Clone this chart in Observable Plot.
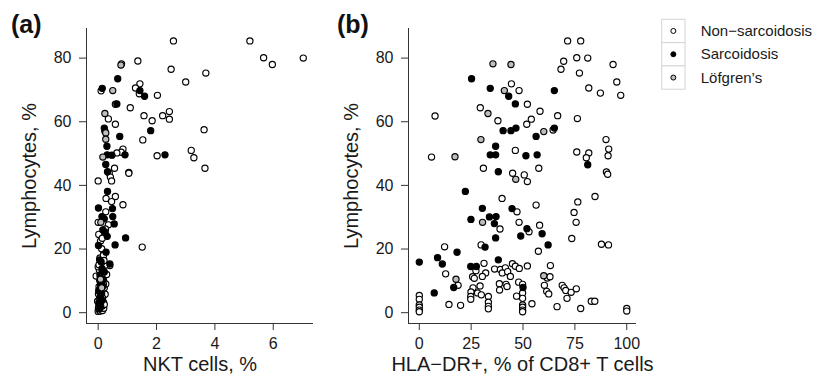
<!DOCTYPE html>
<html><head><meta charset="utf-8">
<script src="https://cdn.jsdelivr.net/npm/d3@7"></script>
<script src="https://cdn.jsdelivr.net/npm/@observablehq/plot@0.6"></script>
<style>
body{margin:0;background:#fff;font-family:"Liberation Sans",Arial,Helvetica,sans-serif;}
#wrap{position:relative;width:813px;height:383px;overflow:hidden;background:#fff;}
.panel{position:absolute;top:0;}
.tag{position:absolute;font-weight:bold;font-size:25px;line-height:25px;color:#111;}
#legend{position:absolute;left:656px;top:14px;}
</style></head><body><div id="wrap"></div>
<script>
// ---------- data ----------
const groups = ["Non\u2212sarcoidosis", "Sarcoidosis", "L\u00f6fgren\u2019s"];
const groupFill = ["white", "black", "#bebebe"];
const yTicks = [0, 20, 40, 60, 80];
const xTicksA = [0, 2, 4, 6];
const xTicksB = [0, 25, 50, 75, 100];
const yLabel = "Lymphocytes, %";
const xLabelA = "NKT cells, %";
const xLabelB = "HLA\u2212DR+, % of CD8+ T cells";
const panelTags = ["(a)", "(b)"];

// Panel (a): [NKT cells %, Lymphocytes %]
const nktNon = [[2.58,85.4],[5.2,85.4],[5.67,80.1],[5.97,78.0],[7.03,80.0],[1.36,79.1],[2.5,76.5],[3.69,75.3],[3.0,72.5],[1.43,71.9],[1.28,70.6],[0.10,69.7],[1.41,68.8],[2.03,68.3],[0.59,65.5],[1.10,64.4],[0.35,60.9],[0.59,59.2],[1.57,61.9],[2.21,61.9],[2.44,63.2],[2.44,60.8],[1.85,60.3],[3.63,57.5],[1.53,54.3],[0.85,51.4],[0.79,50.4],[0.64,50.2],[2.02,49.3],[3.19,51.0],[3.28,48.7],[3.66,45.4],[0.56,45.4],[0.38,43.8],[1.05,44.1],[1.05,43.8],[0.42,42.6],[0.46,41.4],[0.0,41.4],[0.59,36.5],[0.27,35.9],[0.46,34.9],[0.85,33.9],[0.26,31.7],[0.35,27.6],[0.0,28.4],[1.51,20.6],[0.08,22.5],[0.19,18.5],[0.40,14.8],
 [0.00,0.4],[0.03,0.9],[0.07,0.5],[0.11,1.1],[0.15,0.7],[0.19,1.4],[0.02,1.8],[0.06,2.4],[0.10,2.9],[0.14,2.1],[0.18,3.3],[-0.02,3.6],[0.04,4.1],[0.09,4.6],[0.13,5.0],[0.17,5.5],[0.01,5.9],[0.06,6.4],[0.11,6.9],[0.16,7.3],[0.21,7.8],[0.03,8.2],[0.08,8.7],[0.13,9.1],[0.19,9.6],[0.05,10.2],[0.12,10.9],[0.17,11.6],[-0.07,11.5],[0.22,12.1],[0.09,12.6],[0.04,13.4],[0.15,13.9],[0.00,14.4],[0.23,14.9],[0.11,15.6],[0.06,17.2],[0.18,18.0],[0.12,20.1],[0.02,24.6],[0.25,26.3],[0.14,23.4],[0.29,12.0],[0.26,9.0],[0.24,5.8],[0.21,2.6],
 [0.01,1.3],[0.08,3.4],[0.15,4.6],[0.02,6.9],[0.10,8.0],[0.18,8.9],[0.07,11.0],[0.14,12.3],[0.03,15.1],[0.20,16.4]];
const nktSarc = [[0.67,73.5],[0.14,70.5],[1.43,69.8],[1.59,68.0],[0.64,65.6],[1.80,57.2],[0.21,58.0],[0.23,57.0],[0.74,55.4],[0.30,52.3],[0.92,49.6],[0.47,49.5],[0.31,49.6],[2.29,49.6],[0.26,46.6],[0.32,44.3],[0.32,38.1],[0.01,32.9],[0.49,32.7],[0.13,30.2],[0.50,30.2],[0.21,29.5],[0.55,27.9],[0.16,26.0],[0.24,25.3],[0.31,24.0],[0.94,23.5],[0.58,21.3],[0.01,21.1],[0.27,19.0],[0.05,16.6],[0.40,15.3],
 [0.05,1.2],[0.09,2.0],[0.02,3.0],[0.14,3.9],[0.07,5.1],[0.12,6.0],[0.03,7.1],[0.16,8.3],[0.09,9.3],[0.18,10.4],[0.06,11.9],[0.21,12.8],[0.13,13.8],[0.10,16.0]];
const nktLof = [[0.80,78.2],[0.78,77.8],[0.50,69.8],[0.23,62.6],[0.26,56.5],[0.26,54.5],[0.16,48.9],[0.09,28.4],[0.08,10.5],[0.12,7.8]];

// Panel (b): [HLA-DR+ % of CD8+ T cells, Lymphocytes %]
const hlaNon = [[71.5,85.4],[77.8,85.4],[75.9,80.1],[81.2,80.0],[69.6,79.0],[93.4,78.0],[68.3,76.5],[77.2,75.3],[95.2,72.5],[44.4,71.9],[81.7,70.6],[48.1,69.8],[87.3,69.0],[97.1,68.3],[52.1,65.5],[29.4,64.4],[58.2,63.3],[7.6,61.8],[66.7,61.9],[37.9,60.3],[54.0,60.8],[51.8,59.2],[76.2,61.0],[64.5,57.4],[90.0,54.4],[91.3,51.4],[5.9,48.9],[46.3,51.0],[75.9,50.5],[81.7,50.2],[80.5,48.7],[91.0,49.3],[30.9,45.4],[57.6,45.4],[45.0,43.8],[50.6,43.3],[52.1,41.2],[90.2,44.2],[90.8,43.5],[39.9,35.9],[56.3,33.8],[84.7,36.5],[76.4,34.8],[47.1,31.7],[74.6,31.5],[48.1,28.4],[75.6,28.4],[58.0,27.5],[38.9,26.3],[52.9,25.4],[73.5,23.3],[29.8,21.3],[12.2,20.7],[87.8,21.5],[91.2,21.3],[57.4,19.3],[31.2,15.5],[44.9,15.4],[46.3,14.6],[52.1,14.7],[63.2,14.8],[27.3,13.2],[36.3,13.7],[39.1,13.6],[41.5,14.1],[40.0,12.5],[42.6,12.9],[43.9,11.4],[48.2,13.9],[32.0,12.5],[30.4,11.4],[12.7,12.2],[25.7,11.3],[26.5,10.8],[61.7,10.9],[63.0,11.3],[18.7,8.6],[38.6,9.1],[41.8,8.9],[42.3,8.2],[47.9,9.6],[49.8,8.9],[60.3,8.6],[68.9,8.6],[69.8,7.8],[70.6,7.0],[73.2,6.4],[75.7,7.5],[29.3,8.4],[25.9,7.8],[38.7,7.1],[28.1,6.2],[29.9,5.6],[24.9,6.5],[24.8,5.1],[24.8,4.2],[33.3,5.1],[33.3,3.3],[33.3,2.0],[33.3,1.2],[0,5.4],[0,4.2],[0,2.4],[0,1.7],[0,0.8],[0,0.3],[14.3,2.6],[19.9,2.3],[46.9,5.2],[49.8,6.2],[49.8,4.5],[49.8,2.4],[49.8,1.7],[49.8,0.8],[49.8,0.3],[54.3,2.8],[61.4,6.7],[62.4,5.9],[71.2,4.5],[66.4,1.9],[77.8,1.3],[82.9,3.6],[84.6,3.6],[100,1.3],[100,0.5]];
const hlaSarc = [[25.2,73.5],[34.2,70.5],[65.1,69.8],[43.1,68.0],[46.3,65.6],[40.4,57.2],[44.2,57.2],[46.6,58.0],[65.1,58.0],[56.3,55.4],[36.8,52.3],[34.2,49.6],[36.8,49.6],[51.4,49.3],[56.8,49.6],[81.2,46.5],[38.1,44.3],[22.2,38.1],[30.4,32.8],[44.7,32.7],[24.9,29.3],[33.8,30.1],[37.0,30.2],[36.2,28.0],[51.9,26.4],[59.2,24.8],[36.8,23.5],[48.9,24.1],[31.7,20.6],[62.1,21.3],[18.2,19.0],[0,15.9],[8.8,17.3],[11.1,15.3],[38.1,16.6],[24.8,14.5],[27.5,14.5],[16.6,7.9],[50.0,7.9],[7.2,6.2]];
const hlaLof = [[35.5,78.2],[44.2,78.0],[41.0,69.8],[33.1,62.6],[60.0,56.9],[29.7,54.4],[17.2,49.0],[46.5,41.9],[30.5,28.4],[17.7,10.5],[60.0,11.6]];

// ---------- drawing ----------
const FONT = "Liberation Sans, Arial, Helvetica, sans-serif";
const yDomain = [-3.4, 89.3];
const wrap = document.getElementById("wrap");

function panel(sets, xDomain, xTicks, xLabel, left, marginRight) {
  const dots = sets.map((s, i) => Plot.dot(s, {x: d => d[0], y: d => d[1], r: 3.1, stroke: "black", strokeWidth: 1.15, fill: groupFill[i]}));
  const p = Plot.plot({
    width: 335, height: 383,
    marginLeft: 86, marginRight, marginTop: 28, marginBottom: 60,
    style: {fontFamily: FONT, color: "#1a1a1a", background: "white", overflow: "visible"},
    x: {domain: xDomain},
    y: {domain: yDomain},
    marks: [
      Plot.ruleX([xDomain[0]], {stroke: "#333", strokeWidth: 1}),
      Plot.ruleY([yDomain[0]], {stroke: "#333", strokeWidth: 1}),
      Plot.axisX({ticks: xTicks, tickSize: 7, tickPadding: 7, fontSize: 16, label: null, stroke: "#333"}),
      Plot.axisY({ticks: yTicks, tickSize: 7, tickPadding: 8, fontSize: 16, label: null, stroke: "#333"}),
      Plot.text([xLabel], {frameAnchor: "bottom", textAnchor: "middle", lineAnchor: "middle", dy: 41, fontSize: 20, fill: "#1a1a1a"}),
      Plot.text([yLabel], {frameAnchor: "left", textAnchor: "middle", lineAnchor: "middle", rotate: -90, dx: -57, fontSize: 20, fill: "#1a1a1a"}),
      ...dots
    ]
  });
  p.classList.add("panel");
  p.style.left = left + "px";
  wrap.appendChild(p);
}

panel([nktNon, nktSarc, nktLof], [-0.4, 7.38], xTicksA, xLabelA, 0, 22);
panel([hlaNon, hlaSarc, hlaLof], [-5.2, 104.7], xTicksB, xLabelB, 322, 21);

// panel tags
[[11, panelTags[0]], [337, panelTags[1]]].forEach(([x, t]) => {
  const d = document.createElement("div");
  d.className = "tag"; d.style.left = x + "px"; d.style.top = "12px"; d.textContent = t;
  wrap.appendChild(d);
});

// legend
const cell = 23.3;
const lg = d3.select(wrap).append("svg").attr("id", "legend")
  .attr("width", 160).attr("height", 80);
const row = lg.selectAll("g").data(groups).join("g")
  .attr("transform", (d, i) => `translate(5.7,${5.3 + i * cell})`);
row.append("rect").attr("width", cell).attr("height", cell)
  .attr("fill", "white").attr("stroke", "#d4d4d4").attr("stroke-width", 1);
row.append("circle").attr("cx", cell / 2).attr("cy", cell / 2).attr("r", 2.5)
  .attr("stroke", "black").attr("stroke-width", 1).attr("fill", (d, i) => groupFill[i]);
row.append("text").attr("x", 39).attr("y", cell / 2).attr("dy", "0.35em")
  .attr("font-family", FONT).attr("font-size", 15).attr("fill", "#1a1a1a").text(d => d);
</script></body></html>
